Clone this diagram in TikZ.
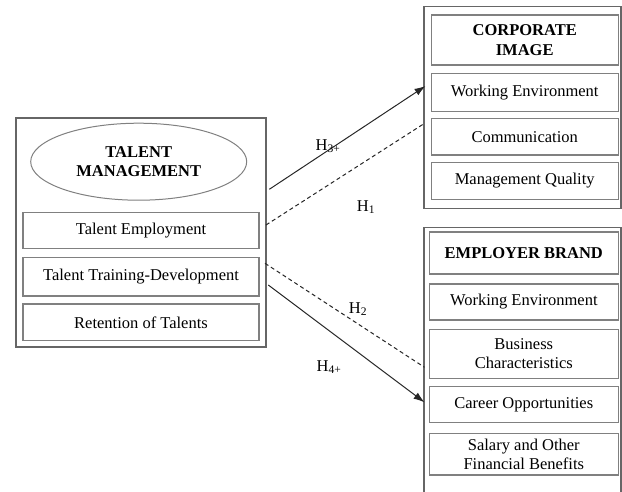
\documentclass[tikz,border=0pt]{standalone}
\usepackage{fontspec}
\setmainfont{Liberation Serif}
\usetikzlibrary{shapes.geometric,arrows.meta}

\begin{document}
\begin{tikzpicture}[x=1pt,y=-1pt,
    every node/.style={font=\fontsize{16.5}{19.5}\selectfont},
    outerbox/.style={draw=black!60, line width=1.1pt, inner sep=0pt},
    itembox/.style={draw=black!50, line width=1.4pt, inner sep=0pt, align=center},
    titlebox/.style={itembox, font=\fontsize{16.5}{19.5}\selectfont\bfseries},
    hyp/.style={inner sep=0pt},
    link/.style={line width=1pt, draw=black!85},
    tip/.style={-{Latex[length=11pt,width=7.5pt]}}]
        \useasboundingbox (0,0) rectangle (622,491);
        % Talent management
        \node[outerbox, minimum width=250pt, minimum height=229pt] (tm) at (141,232.5) {};
        \node[ellipse, draw=black!50, line width=1pt, inner sep=0pt, minimum width=216pt, minimum height=77pt,
              align=center, font=\fontsize{16.5}{19.5}\selectfont\bfseries] (tmtitle) at (138.7,161.7) {TALENT\\MANAGEMENT};
        \node[itembox, minimum width=236pt, minimum height=36pt] (employ) at (141,230.3) {Talent Employment};
        \node[itembox, minimum width=236pt, minimum height=38.5pt] (train) at (141,276.7) {Talent Training-Development};
        \node[itembox, minimum width=236pt, minimum height=36.5pt] (retain) at (141,322.3) {Retention of Talents};
        % Corporate image
        \node[outerbox, minimum width=197pt, minimum height=201.5pt] (ci) at (522.5,107.5) {};
        \node[titlebox, minimum width=187pt, minimum height=50pt] (cititle) at (524.7,40) {CORPORATE\\IMAGE};
        \node[itembox, minimum width=187pt, minimum height=38.5pt] (ciwork) at (524.7,92.5) {Working Environment};
        \node[itembox, minimum width=187pt, minimum height=36.5pt] (cicomm) at (524.7,136.7) {Communication};
        \node[itembox, minimum width=187pt, minimum height=36.5pt] (ciqual) at (524.7,181) {Management Quality};
        % Employer brand
        \node[outerbox, minimum width=197pt, minimum height=272pt] (eb) at (522.5,363.5) {};
        \node[titlebox, minimum width=189pt, minimum height=42pt] (ebtitle) at (523.8,252.9) {EMPLOYER BRAND};
        \node[itembox, minimum width=189pt, minimum height=36pt] (ebwork) at (523.8,302) {Working Environment};
        \node[itembox, minimum width=189pt, minimum height=49pt] (ebbus) at (523.8,353.8) {Business\\Characteristics};
        \node[itembox, minimum width=189pt, minimum height=36pt] (ebcar) at (523.8,404.7) {Career Opportunities};
        \node[itembox, minimum width=189pt, minimum height=41.5pt] (ebsal) at (523.8,454.2) {Salary and Other\\Financial Benefits};
        % Ends of the links
        \coordinate (h3a) at (269.3,189.3);
        \coordinate (h3b) at (425.5,86);
        \coordinate (h1a) at (266,225);
        \coordinate (h1b) at (423.5,124);
        \coordinate (h2a) at (265,263.3);
        \coordinate (h2b) at (424.5,367.3);
        \coordinate (h4a) at (268.3,285);
        \coordinate (h4b) at (424.5,402.3);
        % Links
        \draw[link, tip] (h3a) -- (h3b);
        \draw[link, dash pattern=on 4pt off 3pt] (h1a) -- (h1b);
        \draw[link, dash pattern=on 4pt off 3pt] (h2a) -- (h2b);
        \draw[link, tip] (h4a) -- (h4b);
        % Hypotheses
        \node[hyp] (h3) at (328,146) {H\textsubscript{3+}};
        \node[hyp] (h1) at (366,207) {H\textsubscript{1}};
        \node[hyp] (h2) at (358,309) {H\textsubscript{2}};
        \node[hyp] (h4) at (329,367) {H\textsubscript{4+}};
\end{tikzpicture}
\end{document}
